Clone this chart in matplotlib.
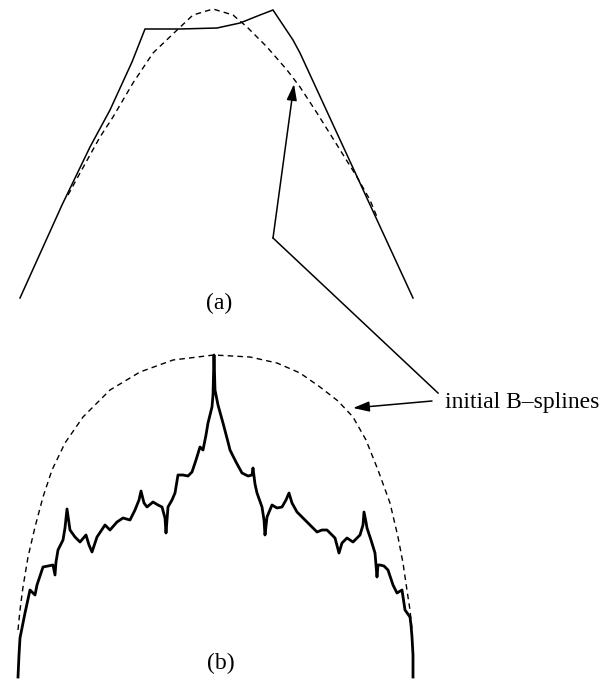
"""Two-panel sketch: (a) polyline vs initial B-spline, (b) fractal curve vs B-spline.

Coordinates are in picture units (x right, y down), read off the reference.
"""
import matplotlib
matplotlib.use("Agg")
import matplotlib.pyplot as plt

# ---- panel (a) ---------------------------------------------------------------
a_solid_x = [20, 62, 90, 110, 132, 145, 180, 217, 240, 260, 273, 293, 300, 413]
a_solid_y = [298, 205, 147, 110, 62, 29, 29, 28, 23, 15, 10, 40, 53, 298]

a_dash_x = [68, 80, 90, 100, 113, 133, 153, 175, 193, 213, 233, 247, 267, 287,
            300, 317, 337, 357, 370, 377]
a_dash_y = [195, 173, 155, 137, 117, 83, 53, 32, 15, 9, 15, 27, 47, 70,
            87, 113, 145, 177, 200, 217]

# ---- panel (b) ---------------------------------------------------------------
b_solid_x = [18, 19, 20, 25, 30, 35, 37, 42, 43, 48, 53, 55, 56, 58, 63, 65, 67,
             70, 75, 80, 86, 89, 92, 97, 105, 110, 117, 123, 130, 135, 139, 141,
             144, 147, 153, 158, 162, 165, 166, 168, 172, 175, 178, 183, 188,
             192, 196, 200, 203, 206, 208, 212, 213, 214, 215, 218, 223, 228,
             230, 236, 242, 248, 252, 253, 255, 257, 262, 264, 265, 267, 272,
             277, 282, 286, 289, 292, 297, 302, 307, 312, 317, 322, 327, 331,
             335, 339, 342, 347, 353, 357, 360, 363, 364, 366, 367, 371, 375,
             377, 378, 380, 384, 388, 393, 397, 402, 405, 410, 411, 412, 413,
             413]
b_solid_y = [677, 655, 638, 613, 590, 595, 585, 570, 567, 566, 565, 575, 562,
             550, 540, 528, 509, 530, 537, 542, 535, 545, 552, 537, 525, 530,
             522, 518, 520, 510, 500, 491, 503, 507, 502, 505, 507, 518, 533,
             507, 500, 493, 475, 475, 476, 472, 460, 447, 450, 435, 423, 407,
             395, 355, 390, 405, 423, 442, 450, 462, 473, 476, 475, 468, 484,
             493, 507, 520, 535, 517, 505, 508, 507, 500, 493, 503, 512, 517,
             522, 527, 532, 530, 530, 534, 538, 553, 543, 538, 542, 538, 535,
             525, 512, 522, 528, 540, 553, 577, 565, 565, 566, 570, 585, 593,
             590, 610, 617, 625, 637, 655, 677]

b_dash_x = [18, 20, 23, 28, 35, 43, 52, 65, 83, 110, 140, 173, 214, 250, 277,
            300, 320, 338, 353, 366, 378, 390, 398, 403, 408, 410, 412]
b_dash_y = [630, 610, 587, 557, 527, 497, 470, 443, 417, 390, 372, 360, 355,
            357, 363, 373, 387, 401, 417, 440, 470, 503, 537, 563, 597, 610, 630]

# ---- annotation --------------------------------------------------------------
label_text = "initial B\u2013splines"
label_xy = (445, 408)
arrow_a_line_x = [438, 273]
arrow_a_line_y = [393, 238]
arrow_a_tip = (294, 84)
arrow_b_tail = (432, 401)
arrow_b_tip = (353, 408)
panel_labels = ["(a)", "(b)"]
panel_label_xy = [(219, 303), (221, 663)]

FONT = ["Liberation Serif", "DejaVu Serif"]
DASH = (0, (4, 3))

fig = plt.figure(figsize=(6.1, 6.8), dpi=100)
ax = fig.add_axes([0, 0, 1, 1])
ax.set_xlim(0, 610)
ax.set_ylim(680, 0)
ax.axis("off")

ax.plot(a_solid_x, a_solid_y, color="black", lw=1.1, solid_joinstyle="miter")
ax.plot(a_dash_x, a_dash_y, color="black", lw=1.0, ls=DASH)
ax.plot(b_solid_x, b_solid_y, color="black", lw=2.0)
ax.plot(b_dash_x, b_dash_y, color="black", lw=1.0, ls=DASH)

arrow_props = dict(arrowstyle="-|>,head_length=0.7,head_width=0.22",
                   color="black", lw=1.1, shrinkA=0, shrinkB=0,
                   mutation_scale=14)
ax.plot(arrow_a_line_x, arrow_a_line_y, color="black", lw=1.1)
ax.annotate("", xy=arrow_a_tip, xytext=(arrow_a_line_x[-1], arrow_a_line_y[-1]),
            arrowprops=arrow_props)
ax.annotate("", xy=arrow_b_tip, xytext=arrow_b_tail, arrowprops=arrow_props)

ax.text(*label_xy, label_text, family=FONT, fontsize=17,
        ha="left", va="baseline")
for txt, (x, y) in zip(panel_labels, panel_label_xy):
    ax.text(x, y, txt, family=FONT, fontsize=17, ha="center", va="center")

fig.savefig("out.png", dpi=100, facecolor="white")
